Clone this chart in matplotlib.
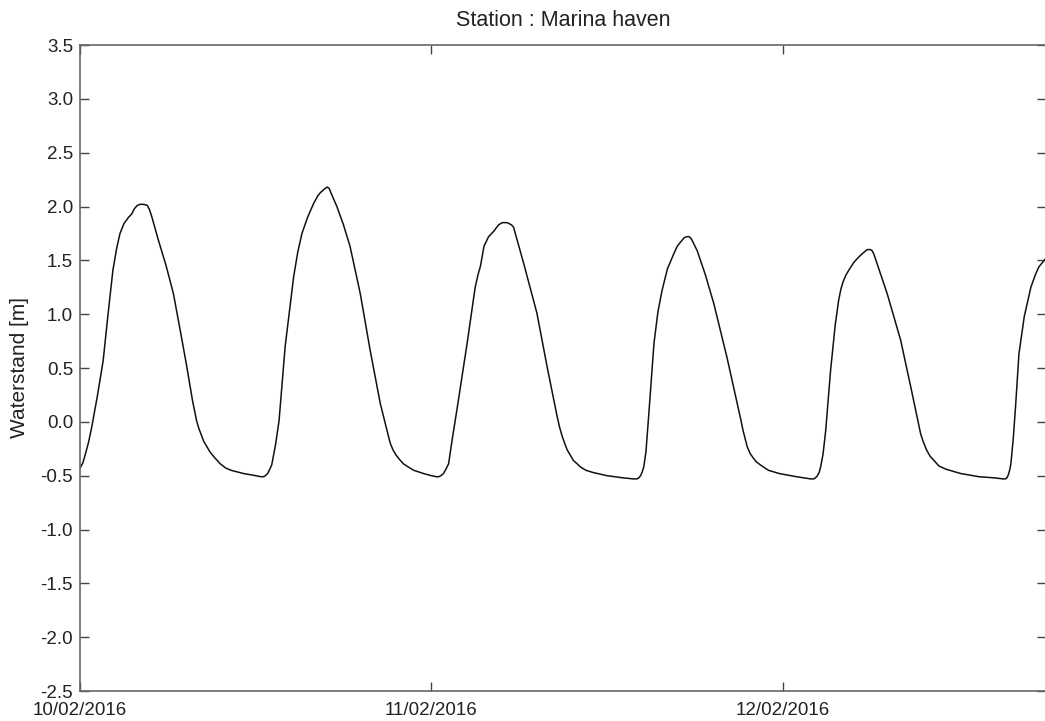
import numpy as np
import matplotlib
matplotlib.use("Agg")
import matplotlib.pyplot as plt
import matplotlib.dates as mdates

plt.rcParams['font.family'] = ['Liberation Sans', 'DejaVu Sans']

# Water level time series (time in days since 10/02/2016 00:00, level in m)
days = [0.000, 0.008, 0.015, 0.024, 0.033, 0.050, 0.066, 0.080, 0.094, 0.105, 0.114, 0.125,
        0.138, 0.147, 0.155, 0.163, 0.171, 0.182, 0.192, 0.198, 0.205, 0.223, 0.245, 0.266,
        0.285, 0.304, 0.320, 0.332, 0.338, 0.345, 0.352, 0.361, 0.370, 0.380, 0.399, 0.415,
        0.430, 0.465, 0.500, 0.515, 0.522, 0.528, 0.534, 0.540, 0.546, 0.556, 0.567, 0.584,
        0.608, 0.620, 0.632, 0.648, 0.665, 0.677, 0.685, 0.695, 0.703, 0.709, 0.715, 0.731,
        0.750, 0.769, 0.798, 0.826, 0.855, 0.863, 0.870, 0.877, 0.883, 0.891, 0.900, 0.910,
        0.921, 0.935, 0.950, 0.978, 1.000, 1.015, 1.021, 1.028, 1.035, 1.042, 1.049, 1.060,
        1.073, 1.102, 1.125, 1.133, 1.140, 1.150, 1.163, 1.178, 1.192, 1.202, 1.211, 1.217,
        1.222, 1.228, 1.234, 1.263, 1.301, 1.330, 1.358, 1.365, 1.372, 1.380, 1.387, 1.396,
        1.405, 1.415, 1.425, 1.440, 1.460, 1.500, 1.545, 1.575, 1.586, 1.591, 1.596, 1.600,
        1.605, 1.611, 1.619, 1.634, 1.645, 1.657, 1.672, 1.690, 1.700, 1.710, 1.720, 1.728,
        1.734, 1.740, 1.757, 1.780, 1.804, 1.842, 1.875, 1.881, 1.887, 1.893, 1.899, 1.907,
        1.915, 1.925, 1.937, 1.960, 1.990, 2.040, 2.080, 2.089, 2.094, 2.099, 2.104, 2.108,
        2.115, 2.123, 2.137, 2.150, 2.160, 2.166, 2.172, 2.180, 2.189, 2.203, 2.217, 2.230,
        2.241, 2.246, 2.250, 2.255, 2.260, 2.298, 2.336, 2.365, 2.393, 2.400, 2.410, 2.420,
        2.431, 2.445, 2.465, 2.507, 2.560, 2.602, 2.628, 2.635, 2.639, 2.643, 2.647, 2.650,
        2.657, 2.664, 2.673, 2.688, 2.707, 2.720, 2.730, 2.750]
level = [-0.43, -0.38, -0.30, -0.19, -0.05, 0.25, 0.57, 1.00, 1.41, 1.62, 1.75, 1.84,
         1.90, 1.93, 1.98, 2.01, 2.02, 2.02, 2.01, 1.97, 1.90, 1.69, 1.45, 1.19,
         0.86, 0.51, 0.20, 0.01, -0.06, -0.12, -0.18, -0.23, -0.28, -0.32, -0.39, -0.43,
         -0.45, -0.48, -0.50, -0.51, -0.51, -0.50, -0.48, -0.44, -0.40, -0.22, 0.01, 0.70,
         1.35, 1.58, 1.75, 1.90, 2.03, 2.10, 2.13, 2.16, 2.18, 2.17, 2.12, 2.00,
         1.83, 1.63, 1.19, 0.67, 0.17, 0.06, -0.03, -0.12, -0.20, -0.26, -0.31, -0.35,
         -0.39, -0.42, -0.45, -0.48, -0.50, -0.51, -0.51, -0.50, -0.48, -0.44, -0.39, -0.16,
         0.11, 0.73, 1.25, 1.37, 1.45, 1.63, 1.72, 1.77, 1.83, 1.85, 1.85, 1.85,
         1.84, 1.83, 1.81, 1.47, 1.01, 0.51, 0.05, -0.05, -0.13, -0.20, -0.26, -0.31,
         -0.36, -0.39, -0.42, -0.45, -0.47, -0.50, -0.52, -0.53, -0.53, -0.52, -0.50, -0.47,
         -0.42, -0.28, 0.05, 0.73, 1.02, 1.22, 1.42, 1.56, 1.63, 1.67, 1.71, 1.72,
         1.72, 1.70, 1.59, 1.37, 1.10, 0.60, 0.11, 0.02, -0.07, -0.15, -0.23, -0.29,
         -0.33, -0.37, -0.40, -0.45, -0.48, -0.51, -0.53, -0.53, -0.52, -0.50, -0.47, -0.42,
         -0.30, -0.08, 0.48, 0.90, 1.13, 1.23, 1.30, 1.36, 1.41, 1.48, 1.53, 1.57,
         1.60, 1.60, 1.60, 1.59, 1.56, 1.19, 0.76, 0.32, -0.11, -0.18, -0.26, -0.32,
         -0.36, -0.41, -0.44, -0.48, -0.51, -0.52, -0.53, -0.53, -0.52, -0.49, -0.44, -0.39,
         -0.15, 0.17, 0.63, 0.98, 1.25, 1.37, 1.44, 1.52]

start = np.datetime64('2016-02-10T00:00')
times = start + (np.array(days) * 24 * 60).round().astype('timedelta64[m]')

x_tick_days = [0, 1, 2]
y_ticks = np.arange(-2.5, 3.51, 0.5)

fig = plt.figure(figsize=(10.45, 7.21), dpi=100)
ax = fig.add_axes([80 / 1045, 30 / 721, 966 / 1045, 646 / 721])

ax.plot(times, level, color='#111111', lw=1.1)

ax.set_xlim(start, start + np.timedelta64(66 * 60, 'm'))
ax.set_ylim(-2.5, 3.5)
ax.set_xticks([start + np.timedelta64(d, 'D') for d in x_tick_days])
ax.xaxis.set_major_formatter(mdates.DateFormatter('%d/%m/%Y'))
ax.set_yticks(y_ticks)
ax.yaxis.set_major_formatter(matplotlib.ticker.FormatStrFormatter('%.1f'))

for s in ax.spines.values():
    s.set_color('#666666')
    s.set_linewidth(1.2)
ax.tick_params(axis='both', which='major', direction='in', length=6.5, width=1.0,
               color='#444444', labelsize=13.5, top=True, right=True,
               labelcolor='#222222')
ax.tick_params(axis='x', pad=8)
ax.tick_params(axis='y', pad=5)

ax.set_ylabel('Waterstand [m]', fontsize=15, color='#222222')
ax.yaxis.set_label_coords(-0.053, 0.5)
ax.set_title('Station : Marina haven', fontsize=15.5, color='#222222', pad=14)

fig.savefig('out.png', dpi=100)
